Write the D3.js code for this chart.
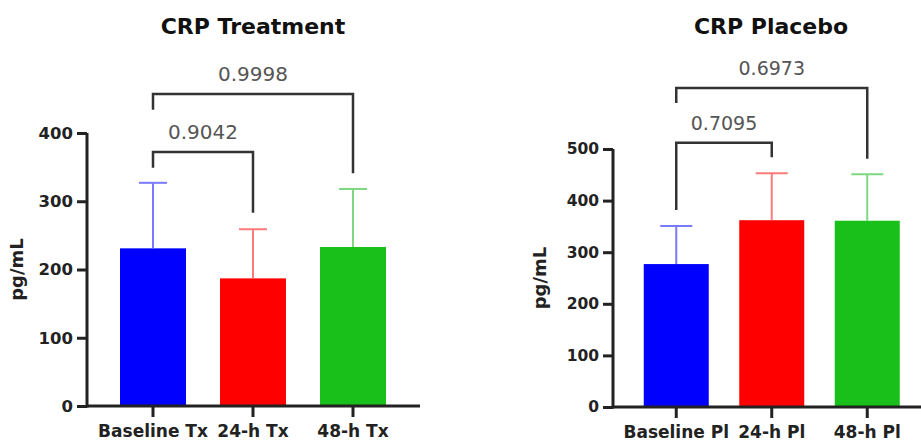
<!DOCTYPE html>
<html>
<head>
<meta charset="utf-8">
<script src="https://cdn.jsdelivr.net/npm/d3@7"></script>
<style>
  body { margin: 0; background: #fff; }
  svg { display: block; }
  text { font-family: "DejaVu Sans", sans-serif; }
</style>
</head>
<body>
<svg id="chart" width="921" height="442"></svg>
<script>
"use strict";

// values (mean, SD in pg/mL)
const txCategories = ["Baseline Tx", "24-h Tx", "48-h Tx"];
const txMeans = [231, 187, 233];
const txSD = [96, 72, 85];
const txTicks = [0, 100, 200, 300, 400];
const txComparisons = [
  { from: 0, to: 1, p: "0.9042" },
  { from: 0, to: 2, p: "0.9998" }
];

const plCategories = ["Baseline Pl", "24-h Pl", "48-h Pl"];
const plMeans = [277, 362, 361];
const plSD = [74, 91, 90];
const plTicks = [0, 100, 200, 300, 400, 500];
const plComparisons = [
  { from: 0, to: 1, p: "0.7095" },
  { from: 0, to: 2, p: "0.6973" }
];

const barColors = ["#0000ff", "#ff0000", "#19c019"];
const errColors = ["#7a7aff", "#ff7a7a", "#7fd87f"];

const svg = d3.select("#chart");

function drawPanel(opt) {
  const g = svg.append("g");
  const y = d3.scaleLinear().domain([0, opt.yMax]).range([opt.y0, opt.yTop]);
  const x = d3.scaleBand().domain(opt.categories).range(opt.bandRange).paddingInner(0);
  const barW = opt.barWidth;
  const cx = d => x(d) + x.bandwidth() / 2;

  // title
  g.append("text")
    .attr("x", opt.titleX).attr("y", 34)
    .attr("text-anchor", "middle")
    .attr("font-size", 22).attr("font-weight", "bold")
    .attr("fill", "#111")
    .text(opt.title);

  // bars
  g.selectAll("rect.bar")
    .data(opt.means)
    .enter()
    .append("rect")
    .attr("class", "bar")
    .attr("x", (d, i) => cx(opt.categories[i]) - barW / 2)
    .attr("y", d => y(d))
    .attr("width", barW)
    .attr("height", d => y(0) - y(d))
    .attr("fill", (d, i) => barColors[i]);

  // error bars (upper only)
  const err = g.selectAll("g.err")
    .data(opt.means)
    .enter()
    .append("g")
    .attr("class", "err")
    .attr("stroke", (d, i) => errColors[i])
    .attr("stroke-width", 2);
  err.append("line")
    .attr("x1", (d, i) => cx(opt.categories[i]))
    .attr("x2", (d, i) => cx(opt.categories[i]))
    .attr("y1", d => y(d))
    .attr("y2", (d, i) => y(d + opt.sd[i]));
  err.append("line")
    .attr("x1", (d, i) => cx(opt.categories[i]) - opt.capWidth / 2)
    .attr("x2", (d, i) => cx(opt.categories[i]) + opt.capWidth / 2)
    .attr("y1", (d, i) => y(d + opt.sd[i]))
    .attr("y2", (d, i) => y(d + opt.sd[i]));

  // y axis
  const yAxis = g.append("g")
    .attr("transform", `translate(${opt.axisX},0)`)
    .call(d3.axisLeft(y).tickValues(opt.ticks).tickSize(10).tickPadding(4).tickSizeOuter(0));
  yAxis.select(".domain").attr("stroke", "#222").attr("stroke-width", 3)
    .attr("d", `M0,${y(0) + 1.5}V${y(opt.yMax)}`);
  yAxis.selectAll(".tick line").attr("stroke", "#222").attr("stroke-width", 3);
  yAxis.selectAll(".tick text")
    .attr("font-family", "DejaVu Sans").attr("font-size", opt.tickFont)
    .attr("font-weight", "bold").attr("fill", "#222");

  // x axis
  const xAxis = g.append("g")
    .attr("transform", `translate(0,${y(0)})`)
    .call(d3.axisBottom(x).tickSize(11).tickPadding(8).tickSizeOuter(0));
  xAxis.select(".domain").attr("stroke", "#222").attr("stroke-width", 3)
    .attr("d", `M${opt.axisX},0H${opt.xAxisEnd}`);
  xAxis.selectAll(".tick line").attr("stroke", "#222").attr("stroke-width", 3);
  xAxis.selectAll(".tick text")
    .attr("font-family", "DejaVu Sans").attr("font-size", 17)
    .attr("font-weight", "bold").attr("fill", "#222");

  // y label
  g.append("text")
    .attr("transform", `translate(${opt.yLabelX},${(y(0) + y(opt.yMax)) / 2}) rotate(-90)`)
    .attr("text-anchor", "middle")
    .attr("font-size", 18).attr("font-weight", "bold")
    .attr("fill", "#222")
    .text("pg/mL");

  // significance brackets
  opt.comparisons.forEach((c, k) => {
    const b = opt.brackets[k];
    const x1 = cx(opt.categories[c.from]);
    const x2 = cx(opt.categories[c.to]);
    g.append("path")
      .attr("d", `M${x1},${y(b.leftEnd)}V${y(b.level)}H${x2}V${y(b.rightEnd)}`)
      .attr("fill", "none")
      .attr("stroke", "#333")
      .attr("stroke-width", 2.5);
    g.append("text")
      .attr("x", (x1 + x2) / 2)
      .attr("y", y(b.level) - 13)
      .attr("text-anchor", "middle")
      .attr("font-size", opt.pFont)
      .attr("fill", "#555")
      .text(c.p);
  });
}

drawPanel({
  title: "CRP Treatment", titleX: 253,
  categories: txCategories, means: txMeans, sd: txSD, ticks: txTicks,
  comparisons: txComparisons,
  yMax: 400, y0: 406, yTop: 133,
  bandRange: [103, 403], barWidth: 66, capWidth: 28,
  axisX: 87, xAxisEnd: 420, yLabelX: 23,
  tickFont: 16.5, pFont: 20,
  brackets: [
    { level: 372, leftEnd: 349, rightEnd: 283 },
    { level: 457, leftEnd: 434, rightEnd: 341 }
  ]
});

drawPanel({
  title: "CRP Placebo", titleX: 771,
  categories: plCategories, means: plMeans, sd: plSD, ticks: plTicks,
  comparisons: plComparisons,
  yMax: 500, y0: 407, yTop: 149,
  bandRange: [628.5, 915], barWidth: 65, capWidth: 32,
  axisX: 613, xAxisEnd: 921, yLabelX: 546,
  tickFont: 15.5, pFont: 19,
  brackets: [
    { level: 512, leftEnd: 382, rightEnd: 484 },
    { level: 618, leftEnd: 589, rightEnd: 481 }
  ]
});
</script>
</body>
</html>
